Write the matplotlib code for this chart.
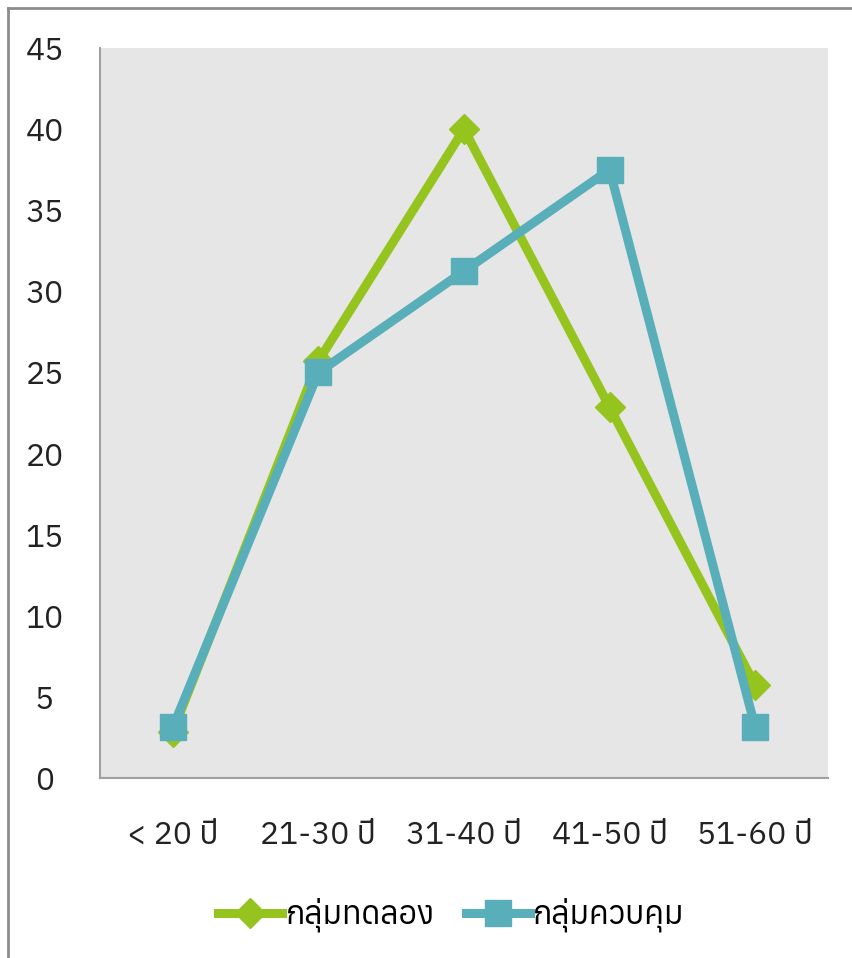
import matplotlib
matplotlib.use('Agg')
import matplotlib.pyplot as plt
from matplotlib import font_manager
from matplotlib.ft2font import FT2Font
from matplotlib.lines import Line2D

# age groups and percentage of each group
categories = ['< 20 ปี', '21-30 ปี', '31-40 ปี', '41-50 ปี', '51-60 ปี']
experiment = [2.86, 25.71, 40.0, 22.86, 5.71]
control = [3.125, 25.0, 31.25, 37.5, 3.125]
series_names = ['กลุ่มทดลอง', 'กลุ่มควบคุม']
yticks = [0, 5, 10, 15, 20, 25, 30, 35, 40, 45]


def find_thai_family():
    # look for any installed font that carries Thai glyphs
    found = []
    for f in font_manager.fontManager.ttflist:
        try:
            cmap = FT2Font(f.fname).get_charmap()
        except Exception:
            continue
        if 0x0E01 in cmap and 0x0E38 in cmap:
            found.append(f.name)
    return sorted(set(found))


thai = find_thai_family()
families = thai[:1] + ['DejaVu Sans']
plt.rcParams['font.family'] = families

green = '#95c41f'
teal = '#58aeb9'

fig = plt.figure(figsize=(8.52, 9.58), dpi=100)
ax = fig.add_axes([100 / 852, 180 / 958, 728 / 852, 730 / 958])
ax.set_facecolor('#e6e6e6')

x = range(len(categories))
ax.plot(x, experiment, color=green, lw=6.5, marker='D', ms=15,
        solid_joinstyle='miter', zorder=3)
ax.plot(x, control, color=teal, lw=6.5, marker='s', ms=19,
        solid_joinstyle='miter', zorder=4)

ax.set_xlim(-0.5, 4.5)
ax.set_ylim(0, 45)
ax.set_yticks(yticks)
ax.set_xticks(list(x))
ax.set_xticklabels(categories)
ax.tick_params(length=0, labelsize=23, colors='#222222')
ax.tick_params(axis='y', pad=40)
ax.tick_params(axis='x', pad=30)
for lab in ax.get_yticklabels():
    lab.set_horizontalalignment('center')
for side in ['top', 'right']:
    ax.spines[side].set_visible(False)
for side in ['left', 'bottom']:
    ax.spines[side].set_color('#a0a0a0')
    ax.spines[side].set_linewidth(1.5)

handles = [
    Line2D([], [], color=green, lw=6.5, marker='D', ms=15),
    Line2D([], [], color=teal, lw=6.5, marker='s', ms=19),
]
fig.legend(handles, series_names, loc='center', bbox_to_anchor=(0.53, 43 / 958),
           ncol=2, frameon=False, fontsize=23, handlelength=2.0,
           handletextpad=0.1, columnspacing=1.0)

# frame lines along the top and left edges
fig.add_artist(Line2D([8 / 852, 1], [1 - 8 / 958, 1 - 8 / 958],
                      transform=fig.transFigure, color='#8c8c8c', lw=2))
fig.add_artist(Line2D([8 / 852, 8 / 852], [0, 1 - 8 / 958],
                      transform=fig.transFigure, color='#8c8c8c', lw=2))

fig.savefig('out.png', dpi=100)
